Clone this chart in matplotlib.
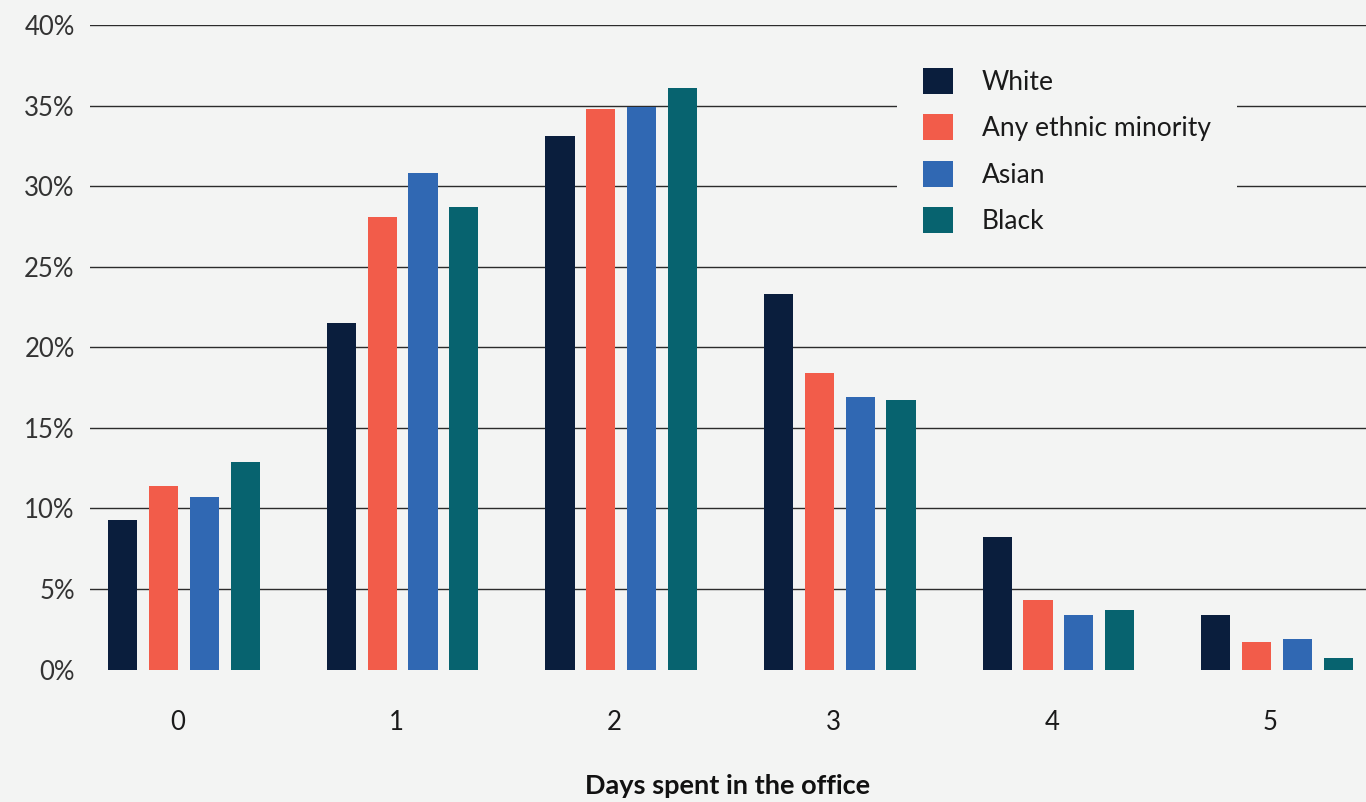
import matplotlib
matplotlib.use("Agg")
import matplotlib.pyplot as plt
import numpy as np

days = ["0", "1", "2", "3", "4", "5"]
series_names = ["White", "Any ethnic minority", "Asian", "Black"]
white = [9.3, 21.5, 33.1, 23.3, 8.2, 3.4]
any_minority = [11.4, 28.1, 34.8, 18.4, 4.3, 1.7]
asian = [10.7, 30.8, 34.9, 16.9, 3.4, 1.9]
black = [12.9, 28.7, 36.1, 16.7, 3.7, 0.7]
y_ticks = [0, 5, 10, 15, 20, 25, 30, 35, 40]
y_ticklabels = ["0%", "5%", "10%", "15%", "20%", "25%", "30%", "35%", "40%"]
x_label = "Days spent in the office"

colors = ["#0a1e3d", "#f25c4a", "#3068b3", "#07636f"]
bg = "#f3f4f3"

plt.rcParams['font.family'] = ['Lato', 'DejaVu Sans']

fig = plt.figure(figsize=(13.66, 8.02), dpi=100, facecolor=bg)
ax = fig.add_axes([90/1366, (802-669.5)/802, 1 - 90/1366, (669.5-25)/802])
ax.set_facecolor(bg)

x = np.arange(len(days))
width = 0.133
step = 0.1866
all_series = [white, any_minority, asian, black]
for k, (vals, name, c) in enumerate(zip(all_series, series_names, colors)):
    ax.bar(x + (k - 1.5) * step, vals, width=width, color=c, label=name, zorder=3)

ax.set_xlim(-0.430, 5.407)
ax.set_ylim(0, 40)
ax.set_yticks(y_ticks)
ax.set_yticklabels(y_ticklabels)
ax.set_xticks(x - 0.03)
ax.set_xticklabels(days)
ax.tick_params(axis='both', length=0, labelsize=18.5, colors='#333333')
ax.tick_params(axis='y', pad=11)
ax.tick_params(axis='x', pad=29)
for lab in ax.get_xticklabels():
    lab.set_color('#1a1a1a')

ax.yaxis.grid(True, color='#2b2b2b', linewidth=1.0, zorder=0)
ax.set_axisbelow(True)
ax.get_ygridlines()[0].set_visible(False)
for s in ax.spines.values():
    s.set_visible(False)

ax.set_xlabel(x_label, fontsize=19.5, fontweight='bold', color='#111111', labelpad=28)

leg = ax.legend(loc='upper left', bbox_to_anchor=(897/1366, 1 - 42/802),
                bbox_transform=fig.transFigure, fontsize=19,
                frameon=True, facecolor=bg, edgecolor='none', framealpha=1,
                handlelength=1.14, handleheight=1.14, labelspacing=0.74,
                handletextpad=1.1, borderpad=0.98, borderaxespad=0)
leg.get_frame().set_boxstyle('square', pad=0)
leg.set_zorder(5)
for t in leg.get_texts():
    t.set_color('#1a1a1a')

fig.savefig("out.png", dpi=100, facecolor=bg)
